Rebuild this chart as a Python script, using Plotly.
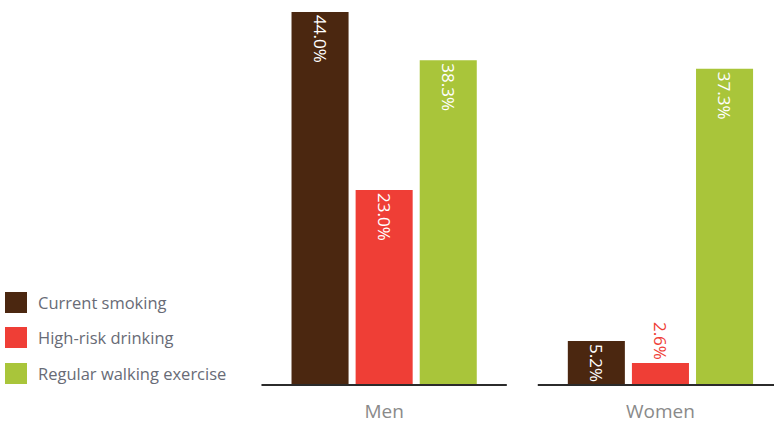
import plotly.graph_objects as go

# Data
groups = ["Men", "Women"]
series_names = ["Current smoking", "High-risk drinking", "Regular walking exercise"]
smoking = [44.0, 5.2]
drinking = [23.0, 2.6]
walking = [38.3, 37.3]

colors = ["#4B2710", "#EF3E36", "#A9C53A"]
values = [smoking, drinking, walking]

W, H = 774, 425
ML, MR, MT, MB = 246, 0, 12, 40
PW, PH = W - ML - MR, H - MT - MB

def px_x(p):
    return (p - ML) / PW

def px_y(p):
    return (H - MB - p) / PH

xpos = list(range(len(groups)))

fig = go.Figure()
for name, vals, col in zip(series_names, values, colors):
    positions = ["inside" if v > 4 else "outside" for v in vals]
    fig.add_trace(go.Bar(
        x=xpos, y=vals, name=name,
        marker=dict(color=col, line=dict(width=0)),
        text=[f"{v:.1f}%" for v in vals],
        textposition=positions,
        textangle=90,
        insidetextanchor="end",
        insidetextfont=dict(color="white", size=19, family="Open Sans"),
        outsidetextfont=dict(color=col, size=19, family="Open Sans"),
        cliponaxis=False,
        showlegend=False,
    ))

shapes = []
# baseline segment under each group
for xp in xpos:
    shapes.append(dict(type="line", xref="x", yref="paper",
                       x0=xp - 0.444, x1=xp + 0.444, y0=0, y1=0,
                       line=dict(color="#2b2b2b", width=2)))

# legend swatches and labels
annotations = []
legend_tops = [292, 327, 363]
for name, col, top in zip(series_names, colors, legend_tops):
    shapes.append(dict(type="rect", xref="paper", yref="paper",
                       x0=px_x(5), x1=px_x(27), y0=px_y(top + 21), y1=px_y(top),
                       fillcolor=col, line=dict(width=0)))
    annotations.append(dict(xref="paper", yref="paper", x=px_x(36), y=px_y(top + 10.5),
                            text=name, showarrow=False, xanchor="left", yanchor="middle",
                            font=dict(family="Open Sans", size=16.5, color="#686b76")))

fig.update_layout(
    width=W, height=H,
    margin=dict(l=ML, r=MR, t=MT, b=MB),
    paper_bgcolor="white", plot_bgcolor="white",
    barmode="group", bargap=0.304, bargroupgap=0.11,
    uniformtext=dict(minsize=16, mode="show"),
    shapes=shapes, annotations=annotations,
    xaxis=dict(range=[-0.5, 1.411], automargin=False,
               tickvals=xpos, ticktext=groups, showgrid=False, zeroline=False,
               showline=False, ticks="outside", ticklen=9, tickcolor="rgba(0,0,0,0)",
               tickfont=dict(family="Open Sans", size=19, color="#8a8a8a")),
    yaxis=dict(range=[0, 44], visible=False, showgrid=False, zeroline=False,
               automargin=False),
)

fig.write_html("out.html")
